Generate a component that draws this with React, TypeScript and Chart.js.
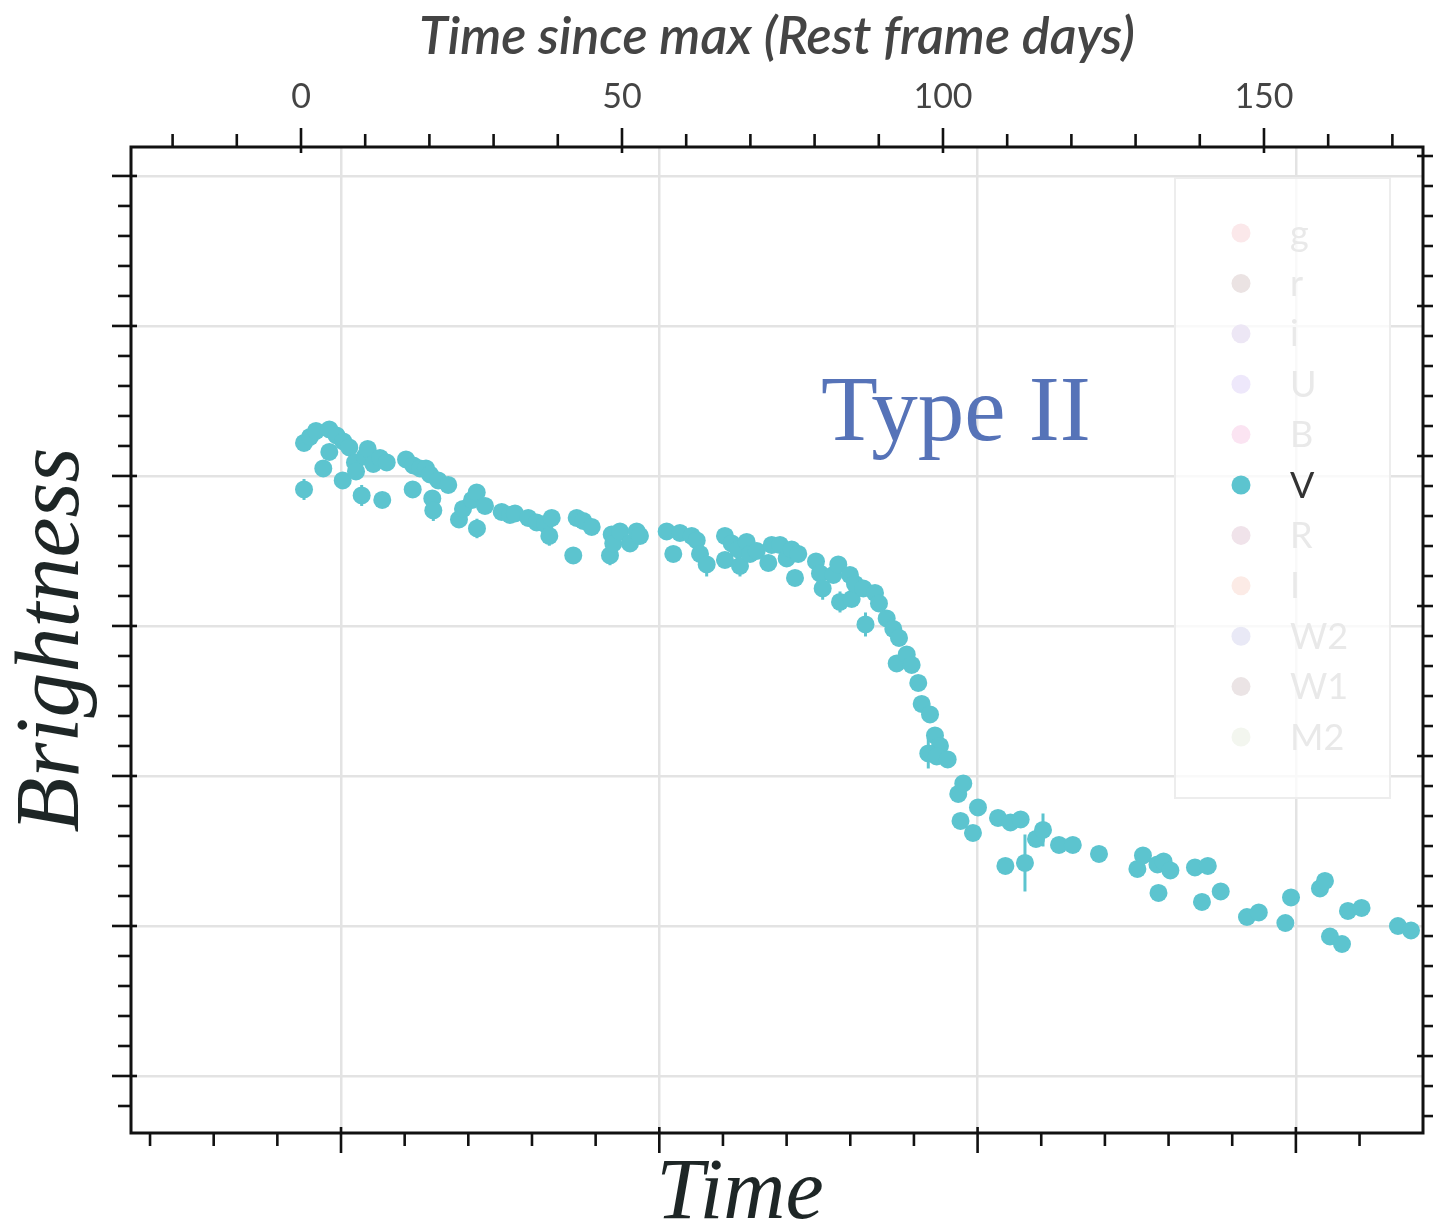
import React, { useEffect, useRef } from "react";
import { Chart, registerables } from "chart.js";

Chart.register(...registerables);

// V-band light curve: rest-frame days since maximum, magnitude, 1-sigma error
const restDays = [
  0.47, 0.47, 1.40, 2.34, 3.47, 4.41, 4.41, 5.53, 6.50, 6.59,
  7.52, 8.41, 8.57, 9.45, 9.97, 10.39, 11.26, 12.31, 12.66, 13.35,
  16.36, 17.40, 17.49, 18.54, 19.47, 20.09, 20.45, 20.61, 21.39, 22.94,
  24.61, 25.23, 26.64, 27.37, 27.41, 28.66, 31.26, 32.55, 33.33, 35.40,
  36.71, 38.01, 38.68, 39.05, 42.41, 42.94, 43.97, 45.28, 48.13, 48.40,
  48.64, 49.69, 51.25, 52.29, 52.80, 56.96, 57.99, 59.03, 60.86, 61.64,
  62.15, 63.19, 66.04, 66.04, 67.09, 68.12, 68.38, 69.42, 69.94, 70.98,
  72.79, 73.32, 74.61, 75.65, 76.43, 76.95, 77.46, 80.22, 80.84, 81.26,
  82.91, 83.69, 83.96, 85.51, 85.78, 86.29, 87.59, 87.93, 89.41, 90.03,
  91.23, 92.26, 93.15, 92.79, 94.35, 95.12, 96.15, 96.68, 97.98, 98.75,
  99.53, 97.71, 99.02, 100.73, 102.38, 103.16, 102.73, 104.67, 105.45, 108.57,
  109.72, 110.51, 112.10, 112.77, 114.49, 115.58, 118.07, 120.22, 124.30, 130.28,
  131.15, 133.41, 133.57, 134.36, 135.42, 139.25, 140.34, 141.25, 143.26, 147.35,
  149.19, 153.33, 154.21, 158.72, 159.50, 160.28, 162.15, 163.08, 165.20, 170.87,
  172.90,
];

const vMag = [
  15.78, 16.09, 15.74, 15.70, 15.95, 15.69, 15.84, 15.73, 16.03, 15.77,
  15.81, 15.91, 15.97, 16.13, 15.87, 15.82, 15.92, 15.88, 16.16, 15.91,
  15.89, 16.09, 15.93, 15.95, 15.95, 15.99, 16.15, 16.23, 16.03, 16.06,
  16.29, 16.22, 16.16, 16.11, 16.35, 16.20, 16.24, 16.26, 16.25, 16.28,
  16.31, 16.32, 16.40, 16.28, 16.53, 16.28, 16.30, 16.34, 16.53, 16.39,
  16.45, 16.37, 16.45, 16.37, 16.40, 16.37, 16.52, 16.38, 16.40, 16.43,
  16.52, 16.59, 16.40, 16.56, 16.45, 16.49, 16.60, 16.44, 16.52, 16.50,
  16.58, 16.46, 16.46, 16.55, 16.49, 16.68, 16.52, 16.57, 16.65, 16.75,
  16.66, 16.59, 16.84, 16.66, 16.82, 16.72, 16.75, 16.99, 16.78, 16.85,
  16.95, 17.02, 17.08, 17.25, 17.19, 17.26, 17.38, 17.52, 17.59, 17.73,
  17.80, 17.85, 17.87, 17.89, 18.12, 18.05, 18.30, 18.38, 18.21, 18.28,
  18.60, 18.31, 18.29, 18.58, 18.42, 18.36, 18.46, 18.46, 18.52, 18.62,
  18.53, 18.59, 18.78, 18.57, 18.63, 18.61, 18.84, 18.60, 18.77, 18.94,
  18.91, 18.98, 18.81, 18.75, 18.70, 19.07, 19.12, 18.90, 18.88, 19.00,
  19.03,
];

const vErr = [
  0.03, 0.07, 0.03, 0.03, 0.03, 0.03, 0.03, 0.03, 0.03, 0.03,
  0.03, 0.03, 0.03, 0.07, 0.03, 0.03, 0.03, 0.03, 0.03, 0.03,
  0.03, 0.03, 0.03, 0.03, 0.03, 0.03, 0.03, 0.07, 0.03, 0.03,
  0.03, 0.03, 0.03, 0.03, 0.065, 0.03, 0.03, 0.03, 0.03, 0.03,
  0.03, 0.03, 0.065, 0.03, 0.03, 0.03, 0.03, 0.03, 0.065, 0.03,
  0.03, 0.03, 0.03, 0.03, 0.03, 0.03, 0.03, 0.03, 0.03, 0.03,
  0.03, 0.08, 0.03, 0.03, 0.03, 0.03, 0.07, 0.03, 0.03, 0.03,
  0.03, 0.03, 0.03, 0.03, 0.03, 0.03, 0.03, 0.03, 0.03, 0.075,
  0.03, 0.03, 0.07, 0.03, 0.03, 0.03, 0.03, 0.08, 0.03, 0.03,
  0.03, 0.03, 0.03, 0.03, 0.03, 0.03, 0.03, 0.03, 0.03, 0.03,
  0.03, 0.10, 0.03, 0.03, 0.03, 0.03, 0.03, 0.03, 0.03, 0.03,
  0.03, 0.03, 0.03, 0.19, 0.03, 0.11, 0.03, 0.03, 0.03, 0.03,
  0.03, 0.03, 0.03, 0.03, 0.03, 0.03, 0.03, 0.03, 0.03, 0.03,
  0.03, 0.03, 0.03, 0.03, 0.03, 0.03, 0.03, 0.03, 0.03, 0.03,
  0.03,
];

// Axis ranges and ticks
const restRange = [-26.48, 174.77];
const restMajorTicks = [0, 50, 100, 150];
const restMinorTicks = [-20, -10, 10, 20, 30, 40, 60, 70, 80, 90, 110, 120, 130, 140, 160, 170];
const obsRange = [17.01, 219.97];
const obsMajorTicks = [50, 100, 150, 200];
const obsMinorTicks = [20, 30, 40, 60, 70, 80, 90, 110, 120, 130, 140, 160, 170, 180, 190, 210];
const magRange = [13.807, 20.38];
const magRightRange = [13.94, 20.513];
const magMajorTicks = [14, 15, 16, 17, 18, 19, 20];
const magMinorLeft = [14.2, 20.2];
const magMinorRight = [14.2, 20.4];
const magMinorStep = 0.2;

// Filter legend
const bandNames = ["g", "r", "i", "U", "B", "V", "R", "I", "W2", "W1", "M2"];
const bandColors = [
  "#fbe8ea", "#ebe3e3", "#ede7f5", "#eee8fb", "#fbe4f2", "#5CC4CF",
  "#f0e3ea", "#fcebe6", "#e9e9f6", "#ebe4e5", "#f3f6ef",
];
const shownBand = "V";

const POINT_COLOR = "#5CC4CF";
const AXIS_COLOR = "#111111";
const GRID_COLOR = "#e3e3e3";
const SANS = "Lato";
const SERIF = "'Liberation Serif'";

function minorValues(range: number[], step: number) {
  const out: number[] = [];
  for (let v = range[0]; v <= range[1] + 1e-6; v += step) {
    const r = Math.round(v * 10) / 10;
    if (Math.abs(r - Math.round(r)) > 1e-6) out.push(r);
  }
  return out;
}

function line(ctx: CanvasRenderingContext2D, x1: number, y1: number, x2: number, y2: number) {
  ctx.beginPath();
  ctx.moveTo(x1, y1);
  ctx.lineTo(x2, y2);
  ctx.stroke();
}

const decorPlugin = {
  id: "lightCurveDecor",
  beforeDatasetsDraw(chart: any) {
    const { ctx, chartArea: a, scales } = chart;

    // legend panel
    const bx = a.right - 248;
    const by = a.top + 31;
    const bw = 215;
    const bh = 620;
    ctx.save();
    ctx.fillStyle = "rgba(255,255,255,0.78)";
    ctx.fillRect(bx, by, bw, bh);
    ctx.strokeStyle = "#ededed";
    ctx.lineWidth = 2;
    ctx.strokeRect(bx, by, bw, bh);
    ctx.font = `36px ${SANS}`;
    ctx.textBaseline = "middle";
    ctx.textAlign = "left";
    bandNames.forEach((name, i) => {
      const cy = by + 55 + i * 50.4;
      ctx.fillStyle = bandColors[i];
      ctx.beginPath();
      ctx.arc(bx + 66, cy, 9.5, 0, Math.PI * 2);
      ctx.fill();
      ctx.fillStyle = name === shownBand ? "#333333" : "#e9e9e9";
      ctx.fillText(name, bx + 115, cy + 1);
    });
    ctx.restore();

    // error bars
    const xs = scales.xTop;
    const ys = scales.y;
    ctx.save();
    ctx.beginPath();
    ctx.rect(a.left, a.top, a.right - a.left, a.bottom - a.top);
    ctx.clip();
    ctx.strokeStyle = POINT_COLOR;
    ctx.lineWidth = 3;
    restDays.forEach((d, i) => {
      const x = xs.getPixelForValue(d);
      line(ctx, x, ys.getPixelForValue(vMag[i] - vErr[i]), x, ys.getPixelForValue(vMag[i] + vErr[i]));
    });
    ctx.restore();
  },
  afterDatasetsDraw(chart: any) {
    const { ctx } = chart;
    ctx.save();
    ctx.fillStyle = "#5673B8";
    ctx.font = `93px ${SERIF}`;
    ctx.textAlign = "left";
    ctx.textBaseline = "alphabetic";
    ctx.fillText("Type II", 821, 440);
    ctx.restore();
  },
  afterDraw(chart: any) {
    const { ctx, chartArea: a, scales } = chart;
    ctx.save();
    ctx.strokeStyle = AXIS_COLOR;
    ctx.lineWidth = 2.6;

    const top = scales.xTop;
    restMajorTicks.forEach((v) => {
      const x = top.getPixelForValue(v);
      line(ctx, x, a.top - 19, x, a.top + 6);
    });
    restMinorTicks.forEach((v) => {
      const x = top.getPixelForValue(v);
      line(ctx, x, a.top - 13, x, a.top);
    });

    const bottom = scales.x;
    obsMajorTicks.forEach((v) => {
      const x = bottom.getPixelForValue(v);
      line(ctx, x, a.bottom - 6, x, a.bottom + 20);
    });
    obsMinorTicks.forEach((v) => {
      const x = bottom.getPixelForValue(v);
      line(ctx, x, a.bottom, x, a.bottom + 13);
    });

    const left = scales.y;
    magMajorTicks.forEach((v) => {
      const y = left.getPixelForValue(v);
      line(ctx, a.left - 19, y, a.left + 6, y);
    });
    minorValues(magMinorLeft, magMinorStep).forEach((v) => {
      const y = left.getPixelForValue(v);
      line(ctx, a.left - 13, y, a.left, y);
    });

    const right = scales.y2;
    magMajorTicks.forEach((v) => {
      const y = right.getPixelForValue(v);
      line(ctx, a.right - 6, y, a.right + 19, y);
    });
    minorValues(magMinorRight, magMinorStep).forEach((v) => {
      const y = right.getPixelForValue(v);
      line(ctx, a.right, y, a.right + 13, y);
    });

    ctx.lineWidth = 3;
    ctx.strokeRect(a.left, a.top, a.right - a.left, a.bottom - a.top);

    ctx.fillStyle = "#1e2626";
    ctx.font = `italic 86px ${SERIF}`;
    ctx.textAlign = "center";
    ctx.textBaseline = "alphabetic";
    ctx.fillText("Time", 740, 1218);
    ctx.restore();
  },
};

export default function App() {
  const canvasRef = useRef<HTMLCanvasElement | null>(null);

  useEffect(() => {
    const canvas = canvasRef.current;
    if (!canvas) return;

    const points = restDays.map((d, i) => ({ x: d, y: vMag[i] }));

    const chart = new Chart(canvas, {
      type: "scatter",
      data: {
        datasets: [
          {
            label: "V",
            data: points,
            xAxisID: "xTop",
            yAxisID: "y",
            pointRadius: 9,
            pointHoverRadius: 9,
            pointBackgroundColor: POINT_COLOR,
            pointBorderWidth: 0,
            backgroundColor: POINT_COLOR,
            borderColor: POINT_COLOR,
          },
        ],
      },
      options: {
        responsive: false,
        animation: false,
        devicePixelRatio: 1,
        layout: { padding: 0 },
        plugins: {
          legend: { display: false },
          tooltip: { enabled: false },
        },
        scales: {
          xTop: {
            type: "linear",
            position: "top",
            min: restRange[0],
            max: restRange[1],
            afterBuildTicks: (s: any) => {
              s.ticks = restMajorTicks.map((v) => ({ value: v }));
            },
            afterFit: (s: any) => {
              s.height = 147;
            },
            grid: { display: false, drawTicks: false, drawOnChartArea: false },
            border: { display: false },
            ticks: {
              display: true,
              padding: 30,
              color: "#444444",
              font: { family: SANS, size: 34 },
              maxRotation: 0,
              autoSkip: false,
            },
            title: {
              display: true,
              text: "Time since max (Rest frame days)",
              color: "#444444",
              font: { family: SANS, size: 52, style: "italic", weight: "600", lineHeight: 1 },
              padding: { top: 11, bottom: 0 },
            },
          },
          x: {
            type: "linear",
            position: "bottom",
            min: obsRange[0],
            max: obsRange[1],
            afterBuildTicks: (s: any) => {
              s.ticks = obsMajorTicks.map((v) => ({ value: v }));
            },
            afterFit: (s: any) => {
              s.height = 94;
            },
            grid: { display: true, drawTicks: false, drawOnChartArea: true, color: GRID_COLOR, lineWidth: 2.5 },
            border: { display: false },
            ticks: { display: false },
          },
          y: {
            type: "linear",
            position: "left",
            reverse: true,
            min: magRange[0],
            max: magRange[1],
            afterBuildTicks: (s: any) => {
              s.ticks = magMajorTicks.map((v) => ({ value: v }));
            },
            afterFit: (s: any) => {
              s.width = 131;
            },
            grid: { display: true, drawTicks: false, drawOnChartArea: true, color: GRID_COLOR, lineWidth: 2.5 },
            border: { display: false },
            ticks: { display: false },
            title: {
              display: true,
              text: "Brightness",
              color: "#1e2626",
              font: { family: "Liberation Serif", size: 90, style: "italic", lineHeight: 1 },
              padding: { top: 9, bottom: 0 },
            },
          },
          y2: {
            type: "linear",
            position: "right",
            reverse: true,
            min: magRightRange[0],
            max: magRightRange[1],
            afterBuildTicks: (s: any) => {
              s.ticks = magMajorTicks.map((v) => ({ value: v }));
            },
            afterFit: (s: any) => {
              s.width = 10;
            },
            grid: { display: false, drawTicks: false, drawOnChartArea: false },
            border: { display: false },
            ticks: { display: false },
          },
        },
      },
      plugins: [decorPlugin],
    } as any);

    return () => {
      chart.destroy();
    };
  }, []);

  return (
    <div style={{ position: "absolute", left: 0, top: 0, width: 1433, height: 1227, background: "#ffffff" }}>
      <canvas ref={canvasRef} width={1433} height={1227} style={{ display: "block" }} />
    </div>
  );
}
